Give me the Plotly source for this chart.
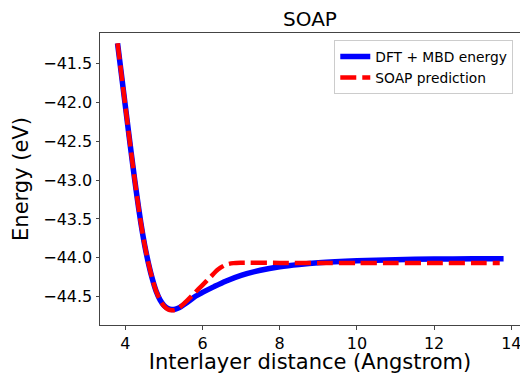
import plotly.graph_objects as go

# Interlayer distance (Angstrom) and energies (eV)
dft_x = [3.8, 3.9, 4.0, 4.1, 4.2, 4.3, 4.4, 4.5, 4.6, 4.7, 4.8, 4.9, 5.0, 5.1, 5.2,
         5.3, 5.4, 5.6, 5.8, 6.0, 6.3, 6.6, 7.0, 7.5, 8.0, 8.5, 9.0, 10.0, 11.0,
         12.0, 13.0, 13.8]
dft_y = [-41.24, -41.64, -42.04, -42.44, -42.83, -43.20, -43.54, -43.83, -44.07,
         -44.27, -44.43, -44.54, -44.61, -44.65, -44.665, -44.66, -44.64, -44.575,
         -44.50, -44.445, -44.37, -44.30, -44.225, -44.16, -44.115, -44.085, -44.063,
         -44.038, -44.024, -44.016, -44.012, -44.01]

soap_x = [3.8, 3.9, 4.0, 4.1, 4.2, 4.3, 4.4, 4.5, 4.6, 4.7, 4.8, 4.9, 5.0, 5.1,
          5.2, 5.3, 5.4, 5.6, 5.8, 6.0, 6.2, 6.4, 6.6, 6.8, 7.0, 8.0, 9.0, 10.0,
          11.0, 12.0, 13.0, 13.7]
soap_y = [-41.24, -41.64, -42.04, -42.44, -42.83, -43.20, -43.54, -43.83, -44.07,
          -44.27, -44.43, -44.54, -44.62, -44.66, -44.675, -44.67, -44.64, -44.55,
          -44.45, -44.35, -44.25, -44.15, -44.09, -44.068, -44.063, -44.065,
          -44.065, -44.065, -44.065, -44.065, -44.065, -44.065]

x_ticks = [4, 6, 8, 10, 12, 14]
y_ticks = [-41.5, -42.0, -42.5, -43.0, -43.5, -44.0, -44.5]

FONT = "DejaVu Sans"
AX = "#444444"

fig = go.Figure()
fig.add_trace(go.Scatter(
    x=dft_x, y=dft_y, mode="lines", name="DFT + MBD energy",
    line=dict(color="#0000ff", width=5.5, shape="spline", smoothing=0.8),
))
fig.add_trace(go.Scatter(
    x=soap_x, y=soap_y, mode="lines", name="SOAP prediction",
    line=dict(color="#ff0000", width=4.5, dash="16px,6px", shape="spline", smoothing=0.8),
))

fig.update_layout(
    width=520, height=374,
    margin=dict(l=100, r=0, t=33, b=49),
    paper_bgcolor="white", plot_bgcolor="white",
    font=dict(family=FONT, color="black", size=16),
    title=dict(text="SOAP", font=dict(size=20, family=FONT, color="black"),
               x=310 / 520, xanchor="center", xref="container",
               y=1 - 19 / 374, yanchor="middle", yref="container"),
    showlegend=True,
    legend=dict(
        x=0.984, xanchor="right", y=0.976, yanchor="top",
        bgcolor="rgba(255,255,255,0.8)", bordercolor="#cccccc", borderwidth=1,
        font=dict(size=13.8, family=FONT, color="black"),
        tracegroupgap=0, itemwidth=30,
    ),
)

fig.update_xaxes(
    range=[3.345, 14.225], tickvals=x_ticks, ticktext=[str(v) for v in x_ticks],
    ticklabeloverflow="allow",
    showgrid=False, zeroline=False, showline=True, linecolor=AX, linewidth=1,
    mirror=True, ticks="outside", ticklen=3.5, tickcolor=AX, tickwidth=1,
    tickfont=dict(size=16, family=FONT, color="black"),
    title=dict(text="Interlayer distance (Angstrom)", font=dict(size=21, family=FONT, color="black"),
               standoff=6),
)
fig.update_yaxes(
    range=[-44.864, -41.107], tickvals=y_ticks,
    ticktext=["\u2212%.1f" % abs(v) for v in y_ticks],
    showgrid=False, zeroline=False, showline=True, linecolor=AX, linewidth=1,
    mirror=False, ticks="outside", ticklen=3.5, tickcolor=AX, tickwidth=1,
    tickfont=dict(size=16, family=FONT, color="black"),
    title=dict(text="Energy (eV)", font=dict(size=21, family=FONT, color="black"),
               standoff=8),
)

fig.write_html("out.html")
